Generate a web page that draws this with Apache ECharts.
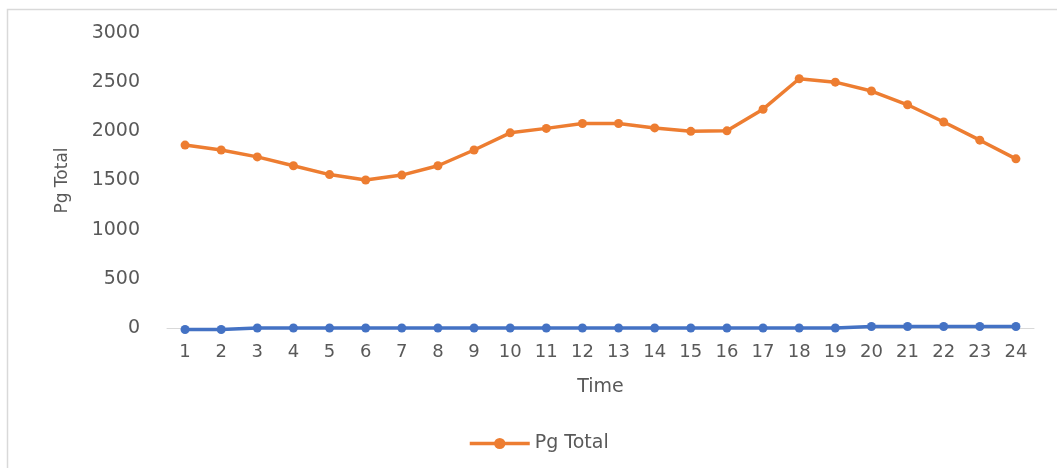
<!DOCTYPE html>
<html>
<head>
<meta charset="utf-8">
<script src="https://cdn.jsdelivr.net/npm/echarts@6/dist/echarts.min.js"></script>
<style>
  html, body { margin: 0; padding: 0; background: #ffffff; }
  #chart { width: 1057px; height: 468px; }
</style>
</head>
<body>
<div id="chart"></div>
<script>
// Hourly time steps
const hours = ['1','2','3','4','5','6','7','8','9','10','11','12',
               '13','14','15','16','17','18','19','20','21','22','23','24'];

// Total generation per hour
const pgTotal = [1860, 1810, 1740, 1650, 1560, 1505, 1555, 1650, 1810, 1985, 2030, 2080,
                 2080, 2035, 2000, 2005, 2225, 2535, 2500, 2410, 2270, 2095, 1910, 1720];

// Second series, close to zero
const series2 = [-15, -15, 0, 0, 0, 0, 0, 0, 0, 0, 0, 0,
                 0, 0, 0, 0, 0, 0, 0, 15, 15, 15, 15, 15];

// Value axis ticks
const yTicks = [0, 500, 1000, 1500, 2000, 2500, 3000];

const FONT = 'DejaVu Sans';
const TEXT = '#595959';

const chart = echarts.init(document.getElementById('chart'), null, { renderer: 'canvas' });

chart.setOption({
  backgroundColor: '#ffffff',
  animation: false,
  textStyle: { fontFamily: FONT, color: TEXT },
  graphic: [{
    type: 'rect',
    shape: { x: 7.5, y: 9.5, width: 1100, height: 520 },
    style: { fill: 'none', stroke: '#d9d9d9', lineWidth: 1.5 },
    silent: true
  }],
  grid: { left: 167, right: 23, top: 33, bottom: 140, containLabel: false },
  legend: {
    data: ['Pg Total'],
    left: 463,
    top: 429,
    itemWidth: 60,
    itemHeight: 14,
    itemGap: 8,
    lineStyle: { width: 3.5 },
    textStyle: { fontFamily: FONT, fontSize: 19, color: TEXT }
  },
  xAxis: {
    type: 'category',
    data: hours,
    boundaryGap: true,
    name: 'Time',
    nameLocation: 'middle',
    nameGap: 50,
    nameTextStyle: { fontFamily: FONT, fontSize: 19, color: TEXT },
    axisLine: { show: true, lineStyle: { color: '#d9d9d9', width: 1 } },
    axisTick: { show: false },
    axisLabel: { fontFamily: FONT, fontSize: 18, color: TEXT, margin: 15, interval: 0 },
    splitLine: { show: false }
  },
  yAxis: {
    type: 'value',
    min: yTicks[0],
    max: yTicks[yTicks.length - 1],
    interval: yTicks[1] - yTicks[0],
    name: 'Pg Total',
    nameLocation: 'middle',
    nameGap: 96,
    nameTextStyle: { fontFamily: FONT, fontSize: 17, color: TEXT },
    axisLine: { show: false },
    axisTick: { show: false },
    axisLabel: {
      fontFamily: FONT, fontSize: 19, color: TEXT, margin: 27,
      formatter: function (v) { return String(v); }
    },
    splitLine: { show: false }
  },
  series: [
    {
      name: 'Pg Total',
      type: 'line',
      data: pgTotal,
      symbol: 'circle',
      symbolSize: 9,
      clip: false,
      lineStyle: { color: '#ED7D31', width: 3.5 },
      itemStyle: { color: '#ED7D31' }
    },
    {
      name: 'Series2',
      type: 'line',
      data: series2,
      symbol: 'circle',
      symbolSize: 9,
      clip: false,
      lineStyle: { color: '#4472C4', width: 3.5 },
      itemStyle: { color: '#4472C4' }
    }
  ]
});
</script>
</body>
</html>
